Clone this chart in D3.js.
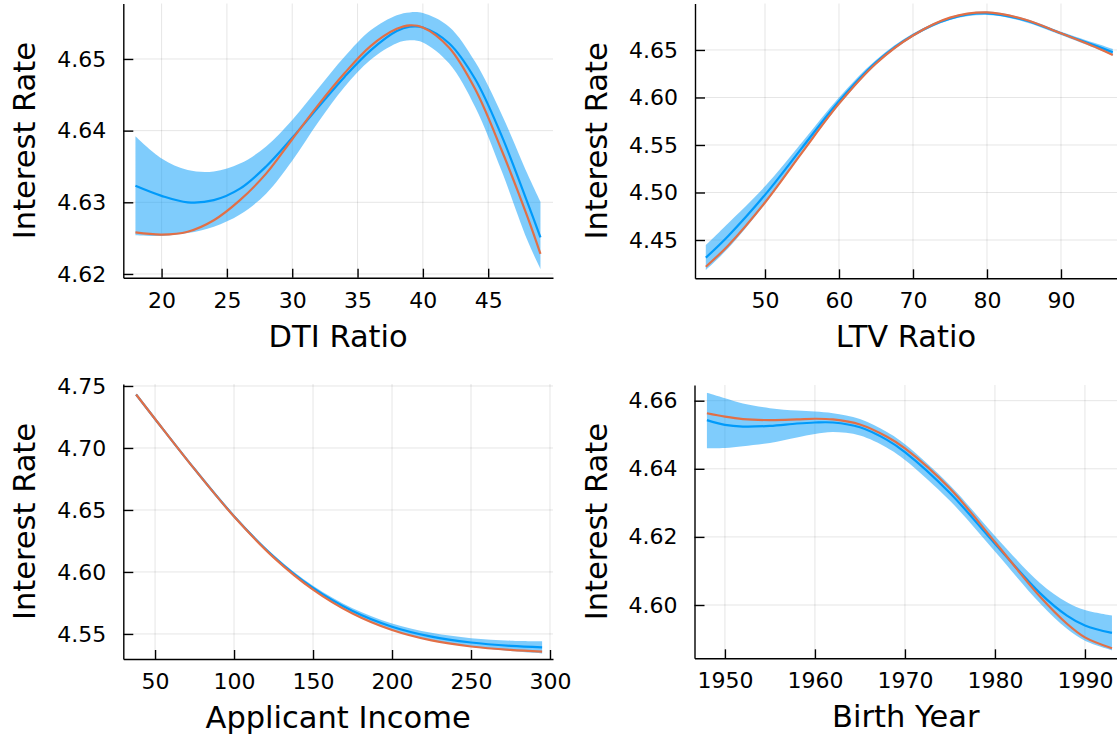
<!DOCTYPE html>
<html>
<head>
<meta charset="utf-8">
<script src="https://cdn.jsdelivr.net/npm/d3@7"></script>
<style>
  html, body { margin: 0; padding: 0; background: #fff; }
  svg { display: block; font-family: "DejaVu Sans", sans-serif; }
</style>
</head>
<body>
<svg id="chart" width="1117" height="740"></svg>
<script>
// DTI ratio panel
const dtiX     = [18, 20, 22, 24, 26, 28, 30, 32, 34, 36, 38, 39, 40, 42, 44, 46, 48, 49];
const dtiFit   = [4.6323, 4.6309, 4.6300, 4.6303, 4.6319, 4.6350, 4.6390, 4.6433, 4.6475, 4.6512, 4.6539, 4.6545, 4.6544, 4.6522, 4.6472, 4.6394, 4.6300, 4.6251];
const dtiTrue  = [4.6258, 4.6255, 4.6259, 4.6275, 4.6303, 4.6340, 4.6388, 4.6436, 4.6480, 4.6518, 4.6542, 4.6547, 4.6544, 4.6516, 4.6458, 4.6374, 4.6280, 4.6228];
const dtiLo    = [4.6254, 4.6253, 4.6257, 4.6266, 4.6283, 4.6312, 4.6358, 4.6412, 4.6461, 4.6499, 4.6522, 4.6526, 4.6523, 4.6494, 4.6433, 4.6345, 4.6247, 4.6207];
const dtiHi    = [4.6392, 4.6361, 4.6345, 4.6343, 4.6354, 4.6378, 4.6415, 4.6459, 4.6503, 4.6540, 4.6561, 4.6565, 4.6564, 4.6545, 4.6496, 4.6424, 4.6340, 4.6301];
const dtiXTicks = [20, 25, 30, 35, 40, 45];
const dtiYTicks = [4.62, 4.63, 4.64, 4.65];

// LTV ratio panel
const ltvX     = [42, 45, 50, 55, 60, 65, 70, 75, 80, 85, 90, 95, 97];
const ltvFit   = [4.4314, 4.4540, 4.4975, 4.5470, 4.5960, 4.6370, 4.6655, 4.6830, 4.6886, 4.6816, 4.6675, 4.6535, 4.6475];
const ltvTrue  = [4.4219, 4.4440, 4.4895, 4.5420, 4.5935, 4.6358, 4.6652, 4.6840, 4.6896, 4.6823, 4.6675, 4.6518, 4.6447];
const ltvLo    = [4.4184, 4.4410, 4.4880, 4.5410, 4.5920, 4.6345, 4.6638, 4.6816, 4.6867, 4.6798, 4.6658, 4.6507, 4.6440];
const ltvHi    = [4.4447, 4.4675, 4.5065, 4.5530, 4.6000, 4.6395, 4.6672, 4.6848, 4.6904, 4.6833, 4.6693, 4.6563, 4.6511];
const ltvXTicks = [50, 60, 70, 80, 90];
const ltvYTicks = [4.45, 4.50, 4.55, 4.60, 4.65];

// applicant income panel
const incX     = [38, 50, 75, 100, 125, 150, 175, 200, 225, 250, 275, 295];
const incFit   = [4.7431, 4.7234, 4.6830, 4.6450, 4.6125, 4.5871, 4.5685, 4.5558, 4.5478, 4.5431, 4.5404, 4.5392];
const incTrue  = [4.7431, 4.7234, 4.6829, 4.6447, 4.6118, 4.5858, 4.5665, 4.5532, 4.5448, 4.5399, 4.5371, 4.5358];
const incLo    = [4.7423, 4.7226, 4.6821, 4.6440, 4.6112, 4.5854, 4.5663, 4.5531, 4.5447, 4.5396, 4.5362, 4.5342];
const incHi    = [4.7439, 4.7242, 4.6839, 4.6460, 4.6138, 4.5888, 4.5707, 4.5585, 4.5509, 4.5466, 4.5446, 4.5442];
const incXTicks = [50, 100, 150, 200, 250, 300];
const incYTicks = [4.55, 4.60, 4.65, 4.70, 4.75];

// birth year panel
const byX      = [1948, 1950, 1952, 1955, 1958, 1960, 1962, 1965, 1968, 1970, 1975, 1980, 1985, 1988, 1990, 1993];
const byFit    = [4.6543, 4.6529, 4.6524, 4.6526, 4.6533, 4.6536, 4.6536, 4.6522, 4.6485, 4.6449, 4.6329, 4.6180, 4.6035, 4.5969, 4.5940, 4.5918];
const byTrue   = [4.6563, 4.6553, 4.6546, 4.6543, 4.6545, 4.6547, 4.6545, 4.6530, 4.6494, 4.6460, 4.6342, 4.6185, 4.6025, 4.5945, 4.5905, 4.5873];
const byLo     = [4.6460, 4.6461, 4.6466, 4.6476, 4.6492, 4.6502, 4.6508, 4.6498, 4.6462, 4.6426, 4.6306, 4.6157, 4.6005, 4.5930, 4.5895, 4.5867];
const byHi     = [4.6623, 4.6607, 4.6592, 4.6578, 4.6571, 4.6568, 4.6563, 4.6546, 4.6508, 4.6472, 4.6352, 4.6203, 4.6065, 4.6008, 4.5985, 4.5969];
const byXTicks = [1950, 1960, 1970, 1980, 1990];
const byYTicks = [4.60, 4.62, 4.64, 4.66];

const FIT_COLOR = "#009afa";
const TRUE_COLOR = "#e26f46";

const svg = d3.select("#chart");

function drawPanel({ left, right, top, bottom, xDomain, yDomain, xs, fit, truth, lo, hi, xTicks, yTicks, xLabel }) {
  const x = d3.scaleLinear().domain(xDomain).range([left, right]);
  const y = d3.scaleLinear().domain(yDomain).range([bottom, top]);
  const g = svg.append("g");

  // grid
  g.append("g").selectAll("line").data(xTicks).join("line")
    .attr("x1", d => x(d)).attr("x2", d => x(d))
    .attr("y1", top).attr("y2", bottom)
    .attr("stroke", "#000").attr("stroke-opacity", 0.1).attr("stroke-width", 1);
  g.append("g").selectAll("line").data(yTicks).join("line")
    .attr("x1", left).attr("x2", right)
    .attr("y1", d => y(d)).attr("y2", d => y(d))
    .attr("stroke", "#000").attr("stroke-opacity", 0.1).attr("stroke-width", 1);

  const rows = xs.map((v, i) => ({ x: v, fit: fit[i], truth: truth[i], lo: lo[i], hi: hi[i] }));

  g.append("path")
    .datum(rows)
    .attr("fill", FIT_COLOR)
    .attr("fill-opacity", 0.5)
    .attr("d", d3.area().curve(d3.curveCatmullRom)
      .x(d => x(d.x)).y0(d => y(d.lo)).y1(d => y(d.hi)));

  g.append("path")
    .datum(rows)
    .attr("fill", "none")
    .attr("stroke", FIT_COLOR)
    .attr("stroke-width", 2.2)
    .attr("d", d3.line().curve(d3.curveCatmullRom).x(d => x(d.x)).y(d => y(d.fit)));

  g.append("path")
    .datum(rows)
    .attr("fill", "none")
    .attr("stroke", TRUE_COLOR)
    .attr("stroke-width", 2.2)
    .attr("d", d3.line().curve(d3.curveCatmullRom).x(d => x(d.x)).y(d => y(d.truth)));

  // axes, ticks point inward
  const xAxis = g.append("g")
    .attr("transform", `translate(0,${bottom})`)
    .call(d3.axisBottom(x).tickValues(xTicks).tickFormat(d3.format("d"))
      .tickSizeInner(-9).tickSizeOuter(0).tickPadding(14.5));
  const yAxis = g.append("g")
    .attr("transform", `translate(${left},0)`)
    .call(d3.axisLeft(y).tickValues(yTicks).tickFormat(d3.format(".2f"))
      .tickSizeInner(-10).tickSizeOuter(0).tickPadding(17));

  [xAxis, yAxis].forEach(a => {
    a.select(".domain").attr("stroke", "#000").attr("stroke-width", 1.4);
    a.selectAll(".tick line").attr("stroke", "#000").attr("stroke-width", 1.4);
    a.selectAll("text")
      .attr("fill", "#000")
      .style("font-size", "22px")
      .style("font-family", "DejaVu Sans, sans-serif");
  });

  g.append("text")
    .attr("x", (left + right) / 2)
    .attr("y", bottom + 69)
    .attr("text-anchor", "middle")
    .style("font-size", "30.5px")
    .text(xLabel);

  g.append("text")
    .attr("transform", `translate(${left - 88},${(top + bottom) / 2}) rotate(-90)`)
    .attr("text-anchor", "middle")
    .style("font-size", "30.5px")
    .text("Interest Rate");
}

drawPanel({
  left: 123.3, right: 553, top: 3.5, bottom: 277.7,
  xDomain: [17.07, 49.96], yDomain: [4.61948, 4.65774],
  xs: dtiX, fit: dtiFit, truth: dtiTrue, lo: dtiLo, hi: dtiHi,
  xTicks: dtiXTicks, yTicks: dtiYTicks, xLabel: "DTI Ratio"
});

drawPanel({
  left: 695, right: 1117, top: 3.5, bottom: 278.3,
  xDomain: [40.54, 97.57], yDomain: [4.4097, 4.6989],
  xs: ltvX, fit: ltvFit, truth: ltvTrue, lo: ltvLo, hi: ltvHi,
  xTicks: ltvXTicks, yTicks: ltvYTicks, xLabel: "LTV Ratio"
});

drawPanel({
  left: 123.3, right: 553, top: 384, bottom: 659,
  xDomain: [29.9, 301.9], yDomain: [4.5298, 4.7516],
  xs: incX, fit: incFit, truth: incTrue, lo: incLo, hi: incHi,
  xTicks: incXTicks, yTicks: incYTicks, xLabel: "Applicant Income"
});

drawPanel({
  left: 694.5, right: 1117, top: 385, bottom: 658.3,
  xDomain: [1946.62, 1993.56], yDomain: [4.58435, 4.66461],
  xs: byX, fit: byFit, truth: byTrue, lo: byLo, hi: byHi,
  xTicks: byXTicks, yTicks: byYTicks, xLabel: "Birth Year"
});
</script>
</body>
</html>
